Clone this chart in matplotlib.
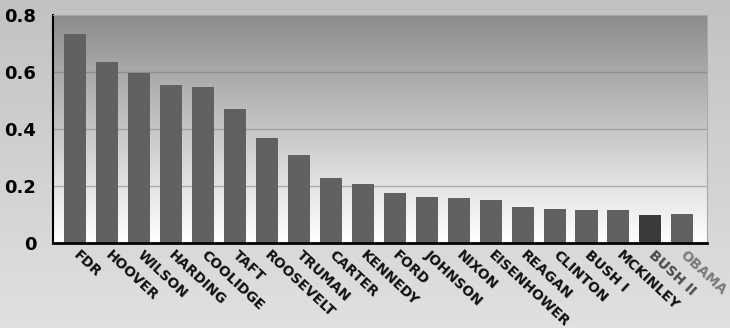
import matplotlib.pyplot as plt
import numpy as np

presidents = ["FDR", "HOOVER", "WILSON", "HARDING", "COOLIDGE", "TAFT", "ROOSEVELT",
              "TRUMAN", "CARTER", "KENNEDY", "FORD", "JOHNSON", "NIXON", "EISENHOWER",
              "REAGAN", "CLINTON", "BUSH I", "MCKINLEY", "BUSH II", "OBAMA"]
values = [0.734, 0.634, 0.598, 0.553, 0.546, 0.470, 0.368, 0.308, 0.227, 0.207,
          0.176, 0.162, 0.158, 0.150, 0.125, 0.119, 0.115, 0.115, 0.099, 0.102]
yticks = [0, 0.2, 0.4, 0.6, 0.8]
ytick_labels = ["0", "0.2", "0.4", "0.6", "0.8"]

bar_colors = ["#616161"] * len(presidents)
bar_colors[presidents.index("BUSH II")] = "#3a3a3a"
label_colors = ["#111111"] * len(presidents)
label_colors[presidents.index("BUSH II")] = "#4a4a4a"
label_colors[presidents.index("OBAMA")] = "#7a7a7a"


def vgrad(top, bottom, n=256, w=1):
    """grey rgb block going from top value to bottom value"""
    g = np.linspace(top, bottom, n)[:, None] * np.ones((1, w))
    return np.dstack([g, g, g])


fig = plt.figure(figsize=(7.3, 3.28), dpi=100, facecolor="#d4d4d4")
# light grey backdrop, a bit darker at the top
fig.figimage(vgrad(0.76, 0.88, n=328, w=730), xo=0, yo=0, origin="upper", zorder=-10)

ax = fig.add_axes([53 / 730, 1 - 243 / 328, 654 / 730, 228 / 328])
x = np.arange(len(presidents))
x0, x1 = -0.69, len(presidents) - 0.23

# plot area gradient: dark grey on top, white at bottom
ax.imshow(vgrad(0.55, 1.0), aspect="auto", extent=[x0, x1, 0, 0.8],
          origin="upper", zorder=0)
ax.set_xlim(x0, x1)
ax.set_ylim(0, 0.8)

for yv in [0.2, 0.4, 0.6]:
    ax.axhline(yv, color="#6f6f6f", lw=1, alpha=0.45, zorder=1)
ax.axhline(0.05, color="#f8f8f8", lw=1.2, zorder=1)

ax.bar(x, values, width=0.69, color=bar_colors, zorder=2)

ax.set_yticks(yticks)
ax.set_yticklabels(ytick_labels, fontsize=13, fontweight="bold")
ax.set_xticks(x)
ax.set_xticklabels(presidents, rotation=-43, ha="left", va="center",
                   rotation_mode="anchor", fontsize=10, fontweight="bold")
for lbl, c in zip(ax.get_xticklabels(), label_colors):
    lbl.set_color(c)
ax.tick_params(axis="x", length=0, pad=7)
ax.tick_params(axis="y", length=0, pad=12)

for s in ["top", "right"]:
    ax.spines[s].set_color("#a8a8a8")
    ax.spines[s].set_linewidth(0.8)
ax.spines["left"].set_linewidth(1.5)
ax.spines["bottom"].set_linewidth(2)

plt.savefig("out.png", dpi=100, facecolor=fig.get_facecolor())
